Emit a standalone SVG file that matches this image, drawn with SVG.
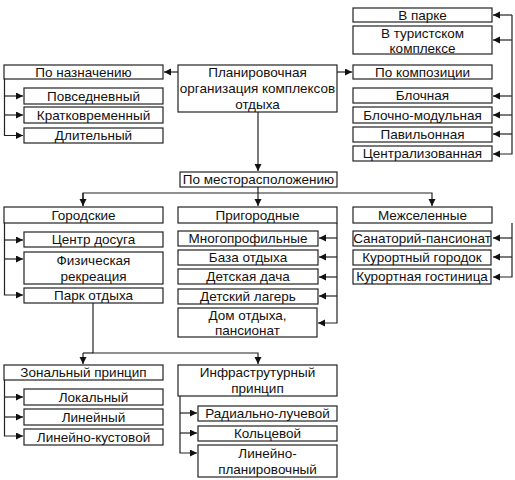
<svg xmlns="http://www.w3.org/2000/svg" width="515" height="480" viewBox="0 0 515 480">
<style>
rect{fill:#fff;stroke:#222;stroke-width:1.2}
text{font-family:"Liberation Sans",Arial,sans-serif;font-size:13.5px;fill:#111;text-anchor:middle;dominant-baseline:central}
.c{fill:none;stroke:#222;stroke-width:1.2}
</style>
<defs>
<marker id="a" markerUnits="userSpaceOnUse" markerWidth="9" markerHeight="9" refX="7" refY="3.5" orient="auto"><path d="M0,0 L7,3.5 L0,7 z" fill="#111"/></marker>
</defs>
<rect width="515" height="480" style="fill:#fff;stroke:none"/>
<g id="connectors">
<path class="c" d="M178,72 H164" marker-end="url(#a)"/>
<path class="c" d="M337,72 H352" marker-end="url(#a)"/>
<path class="c" d="M258,112 V171" marker-end="url(#a)"/>
<path class="c" d="M4.5,79 V135.5 H23" marker-end="url(#a)"/>
<path class="c" d="M4.5,96 H23" marker-end="url(#a)"/>
<path class="c" d="M4.5,115 H23" marker-end="url(#a)"/>
<path class="c" d="M512,15 V154 H493" marker-end="url(#a)"/>
<path class="c" d="M512,15 H493" marker-end="url(#a)"/>
<path class="c" d="M512,40 H493" marker-end="url(#a)"/>
<path class="c" d="M512,96 H493" marker-end="url(#a)"/>
<path class="c" d="M512,115 H493" marker-end="url(#a)"/>
<path class="c" d="M512,134 H493" marker-end="url(#a)"/>
<path class="c" d="M258,187 V206" marker-end="url(#a)"/>
<path class="c" d="M83,206 V193 H432 V206" marker-end="url(#a)"/>
<path class="c" d="M83,193 V206" marker-end="url(#a)"/>
<path class="c" d="M4.5,223 V295 H23" marker-end="url(#a)"/>
<path class="c" d="M4.5,240 H23" marker-end="url(#a)"/>
<path class="c" d="M4.5,259 H23" marker-end="url(#a)"/>
<path class="c" d="M337,223 V323 H318" marker-end="url(#a)"/>
<path class="c" d="M337,238 H319" marker-end="url(#a)"/>
<path class="c" d="M337,257 H319" marker-end="url(#a)"/>
<path class="c" d="M337,277 H319" marker-end="url(#a)"/>
<path class="c" d="M337,296 H319" marker-end="url(#a)"/>
<path class="c" d="M512,223 V277 H493" marker-end="url(#a)"/>
<path class="c" d="M512,238 H493" marker-end="url(#a)"/>
<path class="c" d="M512,257 H493" marker-end="url(#a)"/>
<path class="c" d="M93,303 V353 H258 V364" marker-end="url(#a)"/>
<path class="c" d="M83,353 H93"/>
<path class="c" d="M83,353 V364" marker-end="url(#a)"/>
<path class="c" d="M4.5,380 V436 H23" marker-end="url(#a)"/>
<path class="c" d="M4.5,397 H23" marker-end="url(#a)"/>
<path class="c" d="M4.5,417 H23" marker-end="url(#a)"/>
<path class="c" d="M180,396 V453 H197" marker-end="url(#a)"/>
<path class="c" d="M180,413 H197" marker-end="url(#a)"/>
<path class="c" d="M180,433 H197" marker-end="url(#a)"/>
</g>
<g id="main"><rect x="178" y="65" width="159" height="47"/><text x="257.5" y="72">Планировочная</text><text x="257.5" y="88">организация комплексов</text><text x="257.5" y="104">отдыха</text></g>
<g id="naznach"><rect x="4" y="65" width="159" height="14"/><text x="83.5" y="72">По назначению</text></g>
<g id="povsed"><rect x="24" y="88" width="139" height="16"/><text x="93.5" y="96">Повседневный</text></g>
<g id="kratk"><rect x="24" y="107" width="139" height="16"/><text x="93.5" y="115">Кратковременный</text></g>
<g id="dlit"><rect x="24" y="128" width="139" height="15"/><text x="93.5" y="135.5">Длительный</text></g>
<g id="vparke"><rect x="353" y="8" width="139" height="14"/><text x="422.5" y="15">В парке</text></g>
<g id="vturist"><rect x="353" y="26" width="139" height="28"/><text x="422.5" y="33">В туристском</text><text x="422.5" y="48">комплексе</text></g>
<g id="kompoz"><rect x="353" y="65" width="139" height="14"/><text x="422.5" y="72">По композиции</text></g>
<g id="blochn"><rect x="353" y="88" width="139" height="15"/><text x="422.5" y="95.5">Блочная</text></g>
<g id="blmod"><rect x="353" y="107" width="139" height="16"/><text x="422.5" y="115">Блочно-модульная</text></g>
<g id="pavil"><rect x="353" y="127" width="139" height="15"/><text x="422.5" y="134.5">Павильонная</text></g>
<g id="central"><rect x="353" y="146" width="139" height="15"/><text x="422.5" y="153.5">Централизованная</text></g>
<g id="mesto"><rect x="180" y="172" width="157" height="15"/><text x="258.5" y="179.5">По месторасположению</text></g>
<g id="gorod"><rect x="4" y="207" width="159" height="16"/><text x="83.5" y="215">Городские</text></g>
<g id="centr"><rect x="24" y="232" width="139" height="15"/><text x="93.5" y="239.5">Центр досуга</text></g>
<g id="fiz"><rect x="24" y="252" width="139" height="32"/><text x="93.5" y="260">Физическая</text><text x="93.5" y="276">рекреация</text></g>
<g id="park"><rect x="24" y="288" width="139" height="15"/><text x="93.5" y="295.5">Парк отдыха</text></g>
<g id="prigor"><rect x="178" y="207" width="159" height="16"/><text x="257.5" y="215">Пригородные</text></g>
<g id="mnogo"><rect x="178" y="231" width="140" height="15"/><text x="248" y="238.5">Многопрофильные</text></g>
<g id="baza"><rect x="178" y="250" width="140" height="15"/><text x="248" y="257.5">База отдыха</text></g>
<g id="dacha"><rect x="178" y="269" width="140" height="15"/><text x="248" y="276.5">Детская дача</text></g>
<g id="lager"><rect x="178" y="289" width="140" height="15"/><text x="248" y="296.5">Детский лагерь</text></g>
<g id="dom"><rect x="178" y="308" width="139" height="29"/><text x="247.5" y="315.5">Дом отдыха,</text><text x="247.5" y="330">пансионат</text></g>
<g id="mezh"><rect x="353" y="207" width="139" height="16"/><text x="422.5" y="215">Межселенные</text></g>
<g id="sanat"><rect x="353" y="231" width="138" height="15"/><text x="422" y="238.5">Санаторий-пансионат</text></g>
<g id="gorodok"><rect x="353" y="250" width="138" height="15"/><text x="422" y="257.5">Курортный городок</text></g>
<g id="gostin"><rect x="353" y="269" width="138" height="15"/><text x="422" y="276.5">Курортная гостиница</text></g>
<g id="zonal"><rect x="4" y="365" width="159" height="15"/><text x="83.5" y="372.5">Зональный принцип</text></g>
<g id="lokal"><rect x="24" y="389" width="139" height="16"/><text x="93.5" y="397">Локальный</text></g>
<g id="lin"><rect x="24" y="409" width="139" height="16"/><text x="93.5" y="417">Линейный</text></g>
<g id="linkust"><rect x="24" y="429" width="139" height="16"/><text x="93.5" y="437">Линейно-кустовой</text></g>
<g id="infra"><rect x="178" y="365" width="159" height="31"/><text x="257.5" y="372.5">Инфраструтурный</text><text x="257.5" y="388">принцип</text></g>
<g id="radial"><rect x="198" y="406" width="139" height="15"/><text x="267.5" y="413.5">Радиально-лучевой</text></g>
<g id="kolc"><rect x="198" y="426" width="139" height="15"/><text x="267.5" y="433.5">Кольцевой</text></g>
<g id="linplan"><rect x="198" y="445" width="139" height="32"/><text x="267.5" y="453">Линейно-</text><text x="267.5" y="469">планировочный</text></g>
</svg>
